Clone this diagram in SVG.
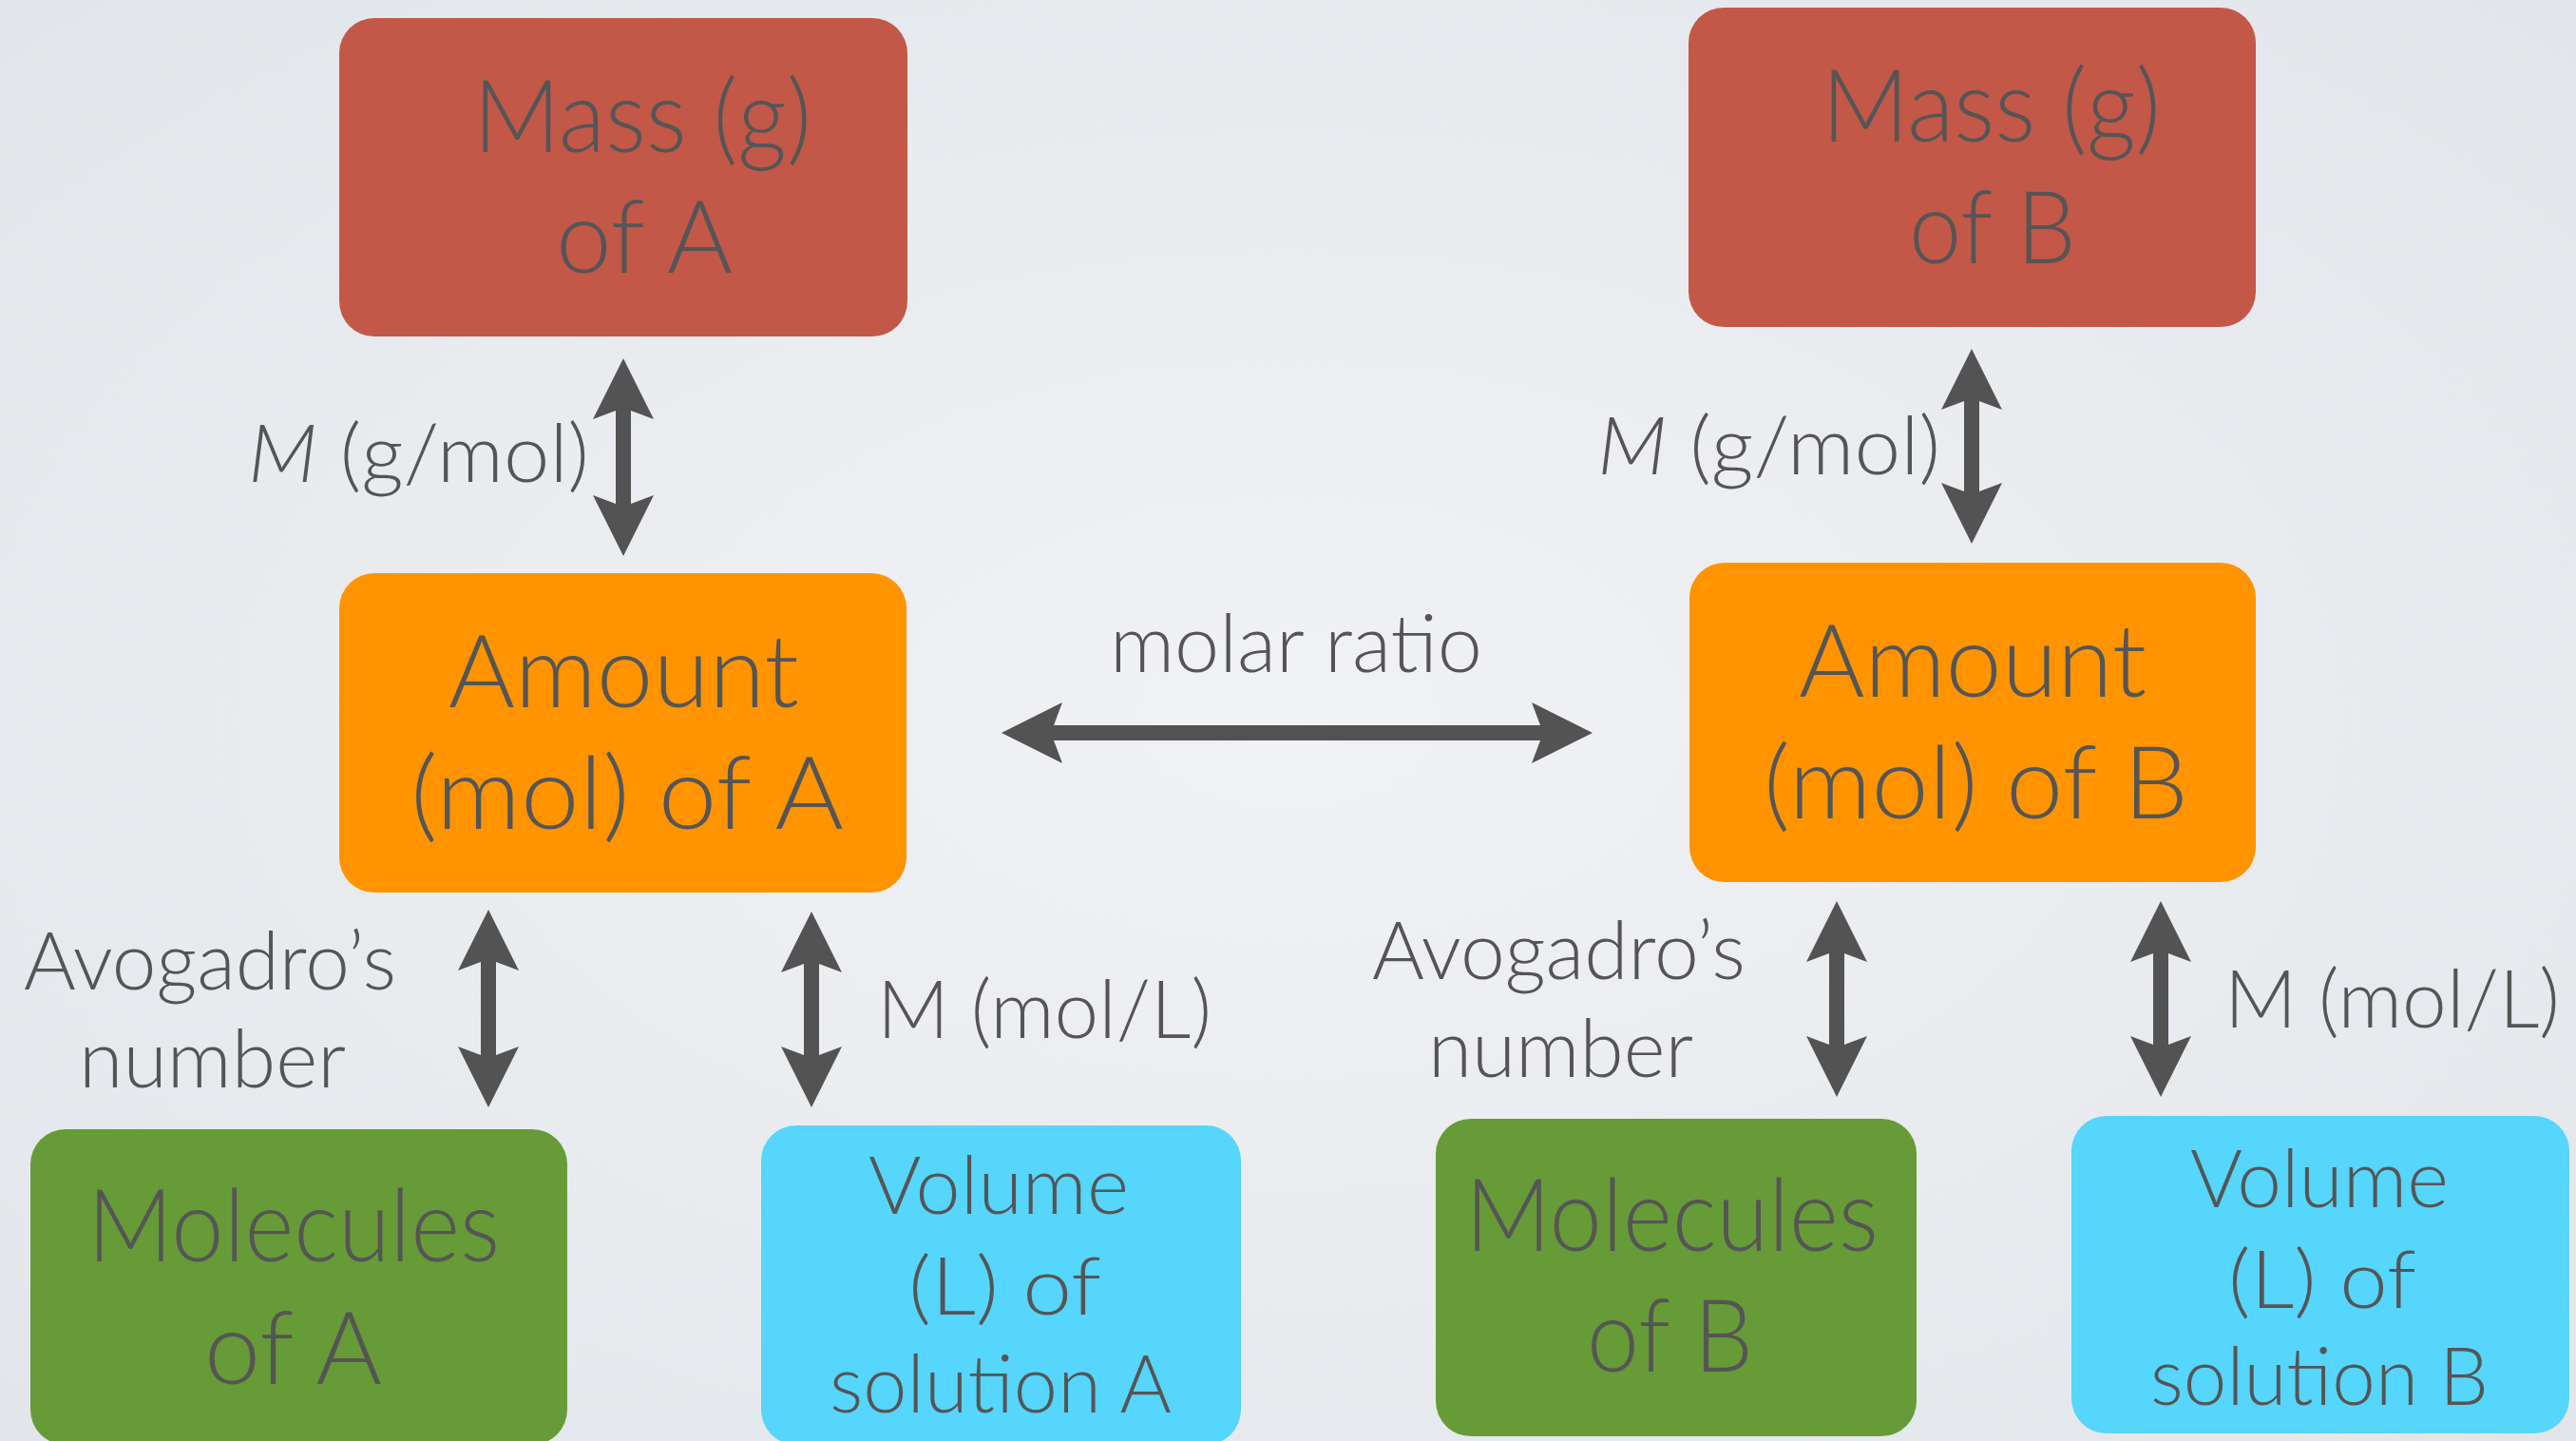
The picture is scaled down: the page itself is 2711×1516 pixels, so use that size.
<svg xmlns="http://www.w3.org/2000/svg" width="2711" height="1516" viewBox="0 0 2711 1516">
  <style>
    .box-text { font-family: "Lato", "Open Sans", "Liberation Sans", sans-serif; font-weight: 300; font-size: 106px; fill: #555555; }
    .label { font-family: "Lato", "Open Sans", "Liberation Sans", sans-serif; font-weight: 300; font-size: 85px; fill: #555555; }
    .mass { fill: #c35848; }
    .amount { fill: #ff9400; }
    .molecules { fill: #669b37; }
    .volume { fill: #56d5fd; }
    .link { stroke: #535353; stroke-width: 16; fill: none; marker-start: url(#head); marker-end: url(#head); }
  </style>
  <defs>
    <radialGradient id="bg" cx="0.5" cy="0.5" r="0.75">
      <stop offset="0" stop-color="#f1f2f5"/>
      <stop offset="1" stop-color="#e1e5e9"/>
    </radialGradient>
    <!-- notched arrowhead; the line ends where the shaft meets the head -->
    <marker id="head" markerUnits="userSpaceOnUse" viewBox="0 -33 65 66" markerWidth="65" markerHeight="66" refX="12" refY="0" orient="auto-start-reverse">
      <path d="M0,-32 L64,0 L0,32 L12,0 Z" fill="#535353"/>
    </marker>
  </defs>

  <rect x="0" y="0" width="2711" height="1516" fill="url(#bg)"/>

  <!-- connectors -->
  <g id="connectors">
    <line class="link" x1="656" y1="429" x2="656" y2="533"/>
    <line class="link" x1="2075" y1="419" x2="2075" y2="520"/>
    <line class="link" x1="1106" y1="771" x2="1624" y2="771"/>
    <line class="link" x1="514" y1="1009" x2="514" y2="1113"/>
    <line class="link" x1="854" y1="1011" x2="854" y2="1113"/>
    <line class="link" x1="1933" y1="1000" x2="1933" y2="1102"/>
    <line class="link" x1="2274" y1="1000" x2="2274" y2="1102"/>
  </g>

  <!-- connector labels -->
  <g id="labels">
    <text class="label" x="261" y="507" textLength="359" lengthAdjust="spacingAndGlyphs"><tspan font-style="italic">M</tspan> (g/mol)</text>
    <text class="label" x="1681" y="499" textLength="361" lengthAdjust="spacingAndGlyphs"><tspan font-style="italic">M</tspan> (g/mol)</text>
    <text class="label" x="1168" y="707" textLength="392" lengthAdjust="spacingAndGlyphs">molar ratio</text>
    <text class="label" x="25" y="1041" textLength="392" lengthAdjust="spacingAndGlyphs">Avogadro’s</text>
    <text class="label" x="83" y="1144" textLength="281" lengthAdjust="spacingAndGlyphs">number</text>
    <text class="label" x="923" y="1092" textLength="352" lengthAdjust="spacingAndGlyphs">M (mol/L)</text>
    <text class="label" x="1444" y="1030" textLength="393" lengthAdjust="spacingAndGlyphs">Avogadro’s</text>
    <text class="label" x="1503" y="1133" textLength="279" lengthAdjust="spacingAndGlyphs">number</text>
    <text class="label" x="2341" y="1081" textLength="353" lengthAdjust="spacingAndGlyphs">M (mol/L)</text>
  </g>

  <!-- nodes -->
  <g id="mass-a">
    <rect class="mass" x="357" y="19" width="598" height="335" rx="37"/>
    <text class="box-text" x="498" y="160" textLength="356" lengthAdjust="spacingAndGlyphs">Mass (g)</text>
    <text class="box-text" x="585" y="287" textLength="186" lengthAdjust="spacingAndGlyphs">of A</text>
  </g>
  <g id="mass-b">
    <rect class="mass" x="1777" y="8" width="597" height="336" rx="37"/>
    <text class="box-text" x="1917" y="149" textLength="357" lengthAdjust="spacingAndGlyphs">Mass (g)</text>
    <text class="box-text" x="2009" y="277" textLength="176" lengthAdjust="spacingAndGlyphs">of B</text>
  </g>
  <g id="amount-a">
    <rect class="amount" x="357" y="603" width="597" height="336" rx="37"/>
    <text class="box-text" x="472" y="744" textLength="369" lengthAdjust="spacingAndGlyphs">Amount</text>
    <text class="box-text" x="432" y="872" textLength="456" lengthAdjust="spacingAndGlyphs">(mol) of A</text>
  </g>
  <g id="amount-b">
    <rect class="amount" x="1778" y="592" width="596" height="336" rx="37"/>
    <text class="box-text" x="1893" y="733" textLength="366" lengthAdjust="spacingAndGlyphs">Amount</text>
    <text class="box-text" x="1856" y="861" textLength="447" lengthAdjust="spacingAndGlyphs">(mol) of B</text>
  </g>
  <g id="molecules-a">
    <rect class="molecules" x="32" y="1188" width="565" height="332" rx="37"/>
    <text class="box-text" x="92" y="1327" textLength="434" lengthAdjust="spacingAndGlyphs">Molecules</text>
    <text class="box-text" x="215" y="1456" textLength="187" lengthAdjust="spacingAndGlyphs">of A</text>
  </g>
  <g id="volume-a">
    <rect class="volume" x="801" y="1184" width="505" height="336" rx="37"/>
    <text class="label" x="914" y="1277" textLength="274" lengthAdjust="spacingAndGlyphs">Volume</text>
    <text class="label" x="956" y="1383" textLength="203" lengthAdjust="spacingAndGlyphs">(L) of</text>
    <text class="label" x="873" y="1486" textLength="360" lengthAdjust="spacingAndGlyphs">solution A</text>
  </g>
  <g id="molecules-b">
    <rect class="molecules" x="1511" y="1177" width="506" height="334" rx="37"/>
    <text class="box-text" x="1542" y="1316" textLength="435" lengthAdjust="spacingAndGlyphs">Molecules</text>
    <text class="box-text" x="1670" y="1443" textLength="175" lengthAdjust="spacingAndGlyphs">of B</text>
  </g>
  <g id="volume-b">
    <rect class="volume" x="2180" y="1174" width="524" height="334" rx="37"/>
    <text class="label" x="2305" y="1270" textLength="272" lengthAdjust="spacingAndGlyphs">Volume</text>
    <text class="label" x="2345" y="1376" textLength="198" lengthAdjust="spacingAndGlyphs">(L) of</text>
    <text class="label" x="2263" y="1478" textLength="356" lengthAdjust="spacingAndGlyphs">solution B</text>
  </g>
</svg>
